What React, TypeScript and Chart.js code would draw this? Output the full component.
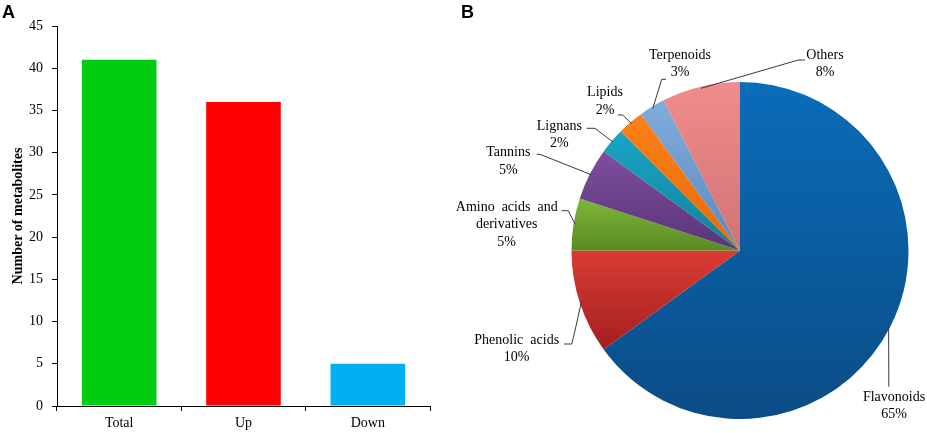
import { useEffect, useRef } from 'react';
import { Chart, registerables } from 'chart.js';

Chart.register(...registerables);

// ---- panel A data ----
const BAR_CATEGORIES = ['Total', 'Up', 'Down'];
const BAR_VALUES = [41, 36, 5];
const BAR_COLORS = ['#00cc11', '#ff0000', '#00b0f0'];
const Y_MIN = 0;
const Y_MAX = 45;
const Y_STEP = 5;

// ---- panel B data ----
const PIE_CATEGORIES = [
  'Flavonoids',
  'Phenolic acids',
  'Amino acids and derivatives',
  'Tannins',
  'Lignans',
  'Lipids',
  'Terpenoids',
  'Others',
];
const PIE_SHARES = [65, 10, 5, 5, 2.5, 2.5, 2.5, 7.5];
const PIE_PERCENT_TEXT = ['65%', '10%', '5%', '5%', '2%', '2%', '3%', '8%'];
const PIE_TOP_COLORS = ['#0a6cb9', '#da3b33', '#7cb83a', '#7e4f9e', '#1ba5c6', '#ff8018', '#80acdd', '#f08c8c'];
const PIE_BOTTOM_COLORS = ['#0b4c86', '#a3201f', '#5a8a22', '#593377', '#0f8199', '#e66c06', '#5e89bd', '#d27373'];

const SERIF = '"Liberation Serif", "Times New Roman", serif';

// label placement: text centre of first line + leader bend points, px from pie centre
const PIE_LABEL_LAYOUT = [
  { lines: ['Flavonoids'], tx: 154, ty: 146.8, leader: [[148.8, 136.2]] },
  { lines: ['Phenolic  acids'], tx: -223.3, ty: 89.5, leader: [[-166, 84.5], [-168.3, 93.5], [-176, 93.5]] },
  { lines: ['Amino  acids  and', 'derivatives'], tx: -233.3, ty: -43.2, leader: [[-171.7, -39.8], [-178.3, -39.8]] },
  { lines: ['Tannins'], tx: -231.7, ty: -97.8, leader: [[-200, -96.2], [-203.3, -96.2]] },
  { lines: ['Lignans'], tx: -180.7, ty: -124.5, leader: [[-145, -122.2], [-153.3, -122.2]] },
  { lines: ['Lipids'], tx: -135, ty: -157.8, leader: [[-117.3, -135.5], [-122.3, -135.5]] },
  { lines: ['Terpenoids'], tx: -60, ty: -195.5, leader: [[-78.3, -171.2], [-74, -171.2]] },
  { lines: ['Others'], tx: 85, ty: -195.5, leader: [[58.3, -190.5], [65, -190.5]] },
];

const pieLabelPlugin = {
  id: 'pieLabels',
  afterDraw(chart: Chart) {
    const meta = chart.getDatasetMeta(0);
    const ctx = chart.ctx;
    ctx.save();
    ctx.font = `14px ${SERIF}`;
    ctx.textAlign = 'center';
    ctx.textBaseline = 'middle';
    meta.data.forEach((el: any, i: number) => {
      const { x, y, startAngle, endAngle, outerRadius } = el.getProps(
        ['x', 'y', 'startAngle', 'endAngle', 'outerRadius'],
        true
      );
      const layout = PIE_LABEL_LAYOUT[i];
      const mid = (startAngle + endAngle) / 2;
      const r = outerRadius * 0.99;
      ctx.beginPath();
      ctx.moveTo(x + r * Math.cos(mid), y + r * Math.sin(mid));
      layout.leader.forEach(([dx, dy]) => ctx.lineTo(x + dx, y + dy));
      ctx.strokeStyle = '#3a3a3a';
      ctx.lineWidth = 1;
      ctx.stroke();

      ctx.fillStyle = '#000';
      const lines = [...layout.lines, PIE_PERCENT_TEXT[i]];
      lines.forEach((t, k) => ctx.fillText(t, x + layout.tx, y + layout.ty + k * 17.4));
    });
    ctx.restore();
  },
};

function sliceGradient(c: any) {
  const chart = c.chart;
  const i = c.dataIndex ?? 0;
  const area = chart.chartArea;
  if (!area) return PIE_TOP_COLORS[i];
  const cx = (area.left + area.right) / 2;
  const cy = (area.top + area.bottom) / 2;
  const r = Math.min(area.width, area.height) / 2;
  const total = PIE_SHARES.reduce((a, b) => a + b, 0);
  const before = PIE_SHARES.slice(0, i).reduce((a, b) => a + b, 0);
  const start = -Math.PI / 2 + (before / total) * Math.PI * 2;
  const end = start + (PIE_SHARES[i] / total) * Math.PI * 2;
  const ys = [cy, cy + r * Math.sin(start), cy + r * Math.sin(end)];
  if (start <= Math.PI / 2 && end >= Math.PI / 2) ys.push(cy + r);
  if (start <= -Math.PI / 2 || end >= (3 * Math.PI) / 2) ys.push(cy - r);
  const top = Math.min(...ys);
  const bottom = Math.max(...ys);
  const g = chart.ctx.createLinearGradient(0, top, 0, bottom + 0.01);
  g.addColorStop(0, PIE_TOP_COLORS[i]);
  g.addColorStop(1, PIE_BOTTOM_COLORS[i]);
  return g;
}

function BarPanel() {
  const canvasRef = useRef<HTMLCanvasElement>(null);
  const chartRef = useRef<Chart | null>(null);

  useEffect(() => {
    if (!canvasRef.current) return;
    if (chartRef.current) chartRef.current.destroy();

    chartRef.current = new Chart(canvasRef.current, {
      type: 'bar',
      data: {
        labels: BAR_CATEGORIES,
        datasets: [
          {
            data: BAR_VALUES,
            backgroundColor: BAR_COLORS,
            borderWidth: 0,
            barPercentage: 0.6,
            categoryPercentage: 1,
          },
        ],
      },
      options: {
        responsive: false,
        animation: false,
        events: [],
        layout: { padding: { top: 26, right: 10, left: 0, bottom: 0 } },
        plugins: { legend: { display: false }, tooltip: { enabled: false } },
        scales: {
          x: {
            grid: { drawOnChartArea: false, offset: true, tickLength: 5, color: '#000' },
            border: { color: '#000', width: 1 },
            ticks: { color: '#000', padding: 4, font: { family: SERIF, size: 14 } },
            afterFit: (s: any) => {
              s.height = 27;
            },
          },
          y: {
            min: Y_MIN,
            max: Y_MAX,
            grid: { drawOnChartArea: false, tickLength: 5, color: '#000' },
            border: { color: '#000', width: 1 },
            ticks: { stepSize: Y_STEP, color: '#000', padding: 9, font: { family: SERIF, size: 14 } },
            title: {
              display: true,
              text: 'Number of metabolites',
              color: '#000',
              padding: { top: 10, bottom: 0 },
              font: { family: SERIF, size: 14, weight: 'bold' },
            },
            afterFit: (s: any) => {
              s.width = 57;
            },
          },
        },
      },
    });

    return () => {
      if (chartRef.current) chartRef.current.destroy();
      chartRef.current = null;
    };
  }, []);

  return <canvas ref={canvasRef} width={440} height={433} style={{ position: 'absolute', left: 0, top: 0 }} />;
}

function PiePanel() {
  const canvasRef = useRef<HTMLCanvasElement>(null);
  const chartRef = useRef<Chart | null>(null);

  useEffect(() => {
    if (!canvasRef.current) return;
    if (chartRef.current) chartRef.current.destroy();

    chartRef.current = new Chart(canvasRef.current, {
      type: 'pie',
      data: {
        labels: PIE_CATEGORIES,
        datasets: [
          {
            data: PIE_SHARES,
            backgroundColor: sliceGradient,
            borderWidth: 0,
            hoverOffset: 0,
          },
        ],
      },
      options: {
        responsive: false,
        animation: false,
        events: [],
        layout: { padding: { left: 131.5, right: 18.5, top: 82, bottom: 14 } },
        plugins: { legend: { display: false }, tooltip: { enabled: false } },
      },
      plugins: [pieLabelPlugin],
    });

    return () => {
      if (chartRef.current) chartRef.current.destroy();
      chartRef.current = null;
    };
  }, []);

  return <canvas ref={canvasRef} width={487} height={433} style={{ position: 'absolute', left: 440, top: 0 }} />;
}

const panelLetter: React.CSSProperties = {
  position: 'absolute',
  top: 3,
  fontFamily: '"Liberation Sans", Arial, sans-serif',
  fontWeight: 'bold',
  fontSize: 18,
  lineHeight: '18px',
  color: '#000',
};

export default function App() {
  return (
    <div style={{ position: 'fixed', left: 0, top: 0, width: 927, height: 433, background: '#fff', overflow: 'hidden' }}>
      <BarPanel />
      <PiePanel />
      <div style={{ ...panelLetter, left: 2 }}>A</div>
      <div style={{ ...panelLetter, left: 461 }}>B</div>
    </div>
  );
}
